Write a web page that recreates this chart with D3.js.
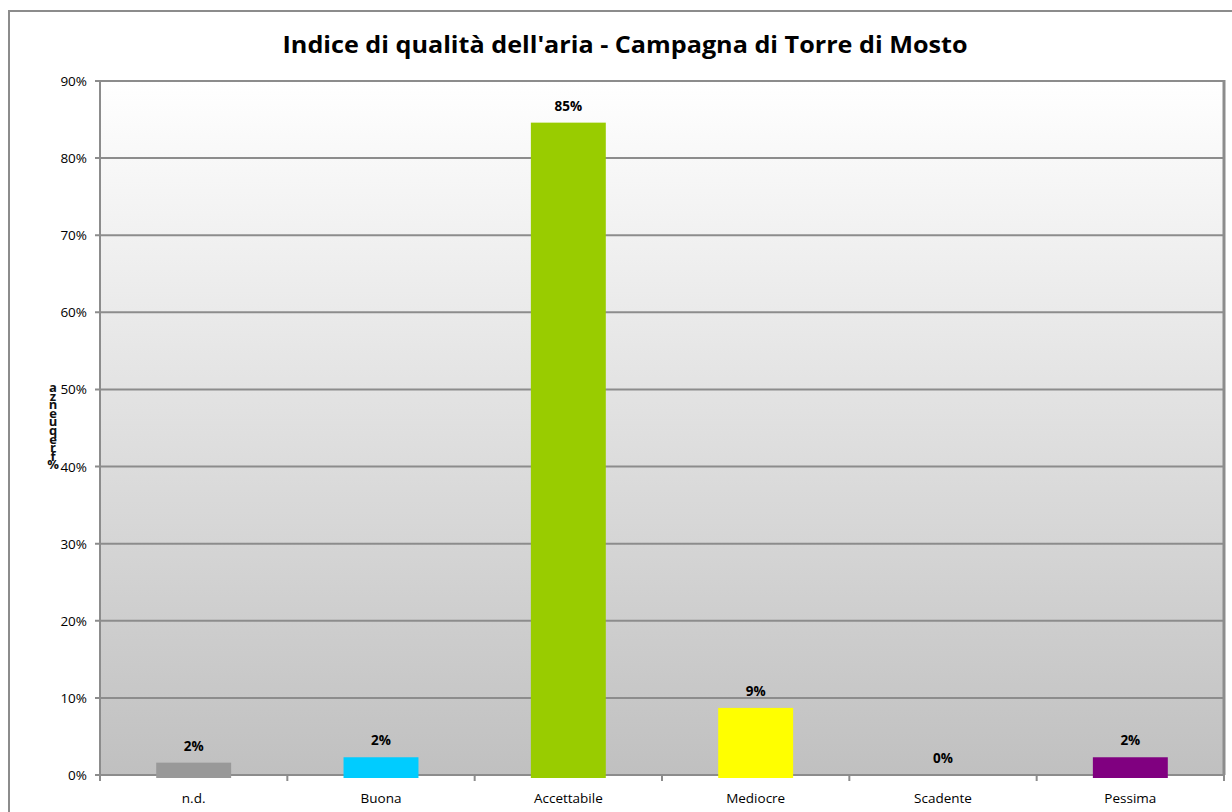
<!DOCTYPE html>
<html>
<head>
<meta charset="utf-8">
<script src="https://cdn.jsdelivr.net/npm/d3@7"></script>
<style>
  body { margin: 0; background: #fff; }
  text { font-family: "Open Sans", "DejaVu Sans", sans-serif; }
</style>
</head>
<body>
<div class="content"></div>
<script>
var svgWidth = 1232;
var svgHeight = 812;

// Chart data.
var categories = ["n.d.", "Buona", "Accettabile", "Mediocre", "Scadente", "Pessima"];
var values = [1.6, 2.3, 84.6, 8.7, 0, 2.3];
var labels = ["2%", "2%", "85%", "9%", "0%", "2%"];
var colors = ["#999999", "#00ccff", "#99cc00", "#ffff00", "#c0c0c0", "#800080"];
var yTicks = [0, 10, 20, 30, 40, 50, 60, 70, 80, 90];

var plot = {left: 100, top: 81, right: 1224, bottom: 775};

var svg = d3.select(".content")
  .append("svg")
  .attr("width", svgWidth)
  .attr("height", svgHeight);

// Gradient for the plot background.
var grad = svg.append("defs").append("linearGradient")
  .attr("id", "bg")
  .attr("x1", 0).attr("y1", 0).attr("x2", 0).attr("y2", 1);
grad.append("stop").attr("offset", "0%").attr("stop-color", "#ffffff");
grad.append("stop").attr("offset", "100%").attr("stop-color", "#c0c0c0");

// Outer chart border (runs off the right and bottom edge).
svg.append("rect")
  .attr("x", 9).attr("y", 11)
  .attr("width", 1240).attr("height", 820)
  .attr("fill", "none")
  .attr("stroke", "#8c8c8c")
  .attr("stroke-width", 2);

var x = d3.scaleBand()
  .domain(categories)
  .range([plot.left, plot.right]);

var y = d3.scaleLinear()
  .domain([0, 90])
  .range([plot.bottom, plot.top]);

// Plot area.
svg.append("rect")
  .attr("x", plot.left).attr("y", plot.top)
  .attr("width", plot.right - plot.left)
  .attr("height", plot.bottom - plot.top)
  .attr("fill", "url(#bg)");

// Gridlines.
svg.append("g")
  .selectAll("line")
  .data(yTicks)
  .enter().append("line")
  .attr("x1", plot.left - 5)
  .attr("x2", plot.right)
  .attr("y1", function(d) { return y(d); })
  .attr("y2", function(d) { return y(d); })
  .attr("stroke", "#8c8c8c")
  .attr("stroke-width", 2);

// Y tick labels.
svg.append("g")
  .selectAll("text")
  .data(yTicks)
  .enter().append("text")
  .attr("x", plot.left - 13)
  .attr("y", function(d) { return y(d) + 5; })
  .attr("text-anchor", "end")
  .attr("font-size", 13.5)
  .attr("fill", "#000")
  .text(function(d) { return d + "%"; });

// Bars.
svg.append("g")
  .selectAll("rect")
  .data(values)
  .enter().append("rect")
  .attr("x", function(d, i) { return x(categories[i]) + x.bandwidth() * 0.3; })
  .attr("width", x.bandwidth() * 0.4)
  .attr("y", function(d) { return y(d); })
  .attr("height", function(d) { return d > 0 ? y(0) - y(d) + 3 : 0; })
  .attr("fill", function(d, i) { return colors[i]; });

// Left axis and right border.
svg.append("line")
  .attr("x1", plot.left).attr("x2", plot.left)
  .attr("y1", plot.top).attr("y2", plot.bottom)
  .attr("stroke", "#8c8c8c").attr("stroke-width", 2);
svg.append("line")
  .attr("x1", plot.right).attr("x2", plot.right)
  .attr("y1", plot.top - 1).attr("y2", plot.bottom)
  .attr("stroke", "#8c8c8c").attr("stroke-width", 3);

// X axis ticks between categories.
var boundaries = categories.map(function(c) { return x(c); }).concat([plot.right]);
svg.append("g")
  .selectAll("line")
  .data(boundaries)
  .enter().append("line")
  .attr("x1", function(d) { return d; })
  .attr("x2", function(d) { return d; })
  .attr("y1", plot.bottom)
  .attr("y2", plot.bottom + 6)
  .attr("stroke", "#8c8c8c")
  .attr("stroke-width", 2);

// Category labels.
svg.append("g")
  .selectAll("text")
  .data(categories)
  .enter().append("text")
  .attr("x", function(d) { return x(d) + x.bandwidth() / 2; })
  .attr("y", 803)
  .attr("text-anchor", "middle")
  .attr("font-size", 13.5)
  .text(function(d) { return d; });

// Value labels.
svg.append("g")
  .selectAll("text")
  .data(values)
  .enter().append("text")
  .attr("x", function(d, i) { return x(categories[i]) + x.bandwidth() / 2; })
  .attr("y", function(d) { return y(d) - 12; })
  .attr("text-anchor", "middle")
  .attr("font-size", 13.5)
  .attr("font-weight", "bold")
  .text(function(d, i) { return labels[i]; });

// Title.
svg.append("text")
  .attr("x", 625)
  .attr("y", 53)
  .attr("text-anchor", "middle")
  .attr("font-size", 23)
  .attr("font-weight", "bold")
  .attr("textLength", 685)
  .attr("lengthAdjust", "spacingAndGlyphs")
  .text("Indice di qualità dell'aria - Campagna di Torre di Mosto");

// Vertical axis title: characters stacked tightly, as in the original.
var yTitle = "%frequenza".split("").reverse();
svg.append("g")
  .selectAll("text")
  .data(yTitle)
  .enter().append("text")
  .attr("x", 53)
  .attr("y", function(d, i) { return 392 + i * 8.6; })
  .attr("text-anchor", "middle")
  .attr("font-size", 13)
  .attr("font-weight", "bold")
  .attr("fill", "#111")
  .text(function(d) { return d; });
</script>
</body>
</html>
